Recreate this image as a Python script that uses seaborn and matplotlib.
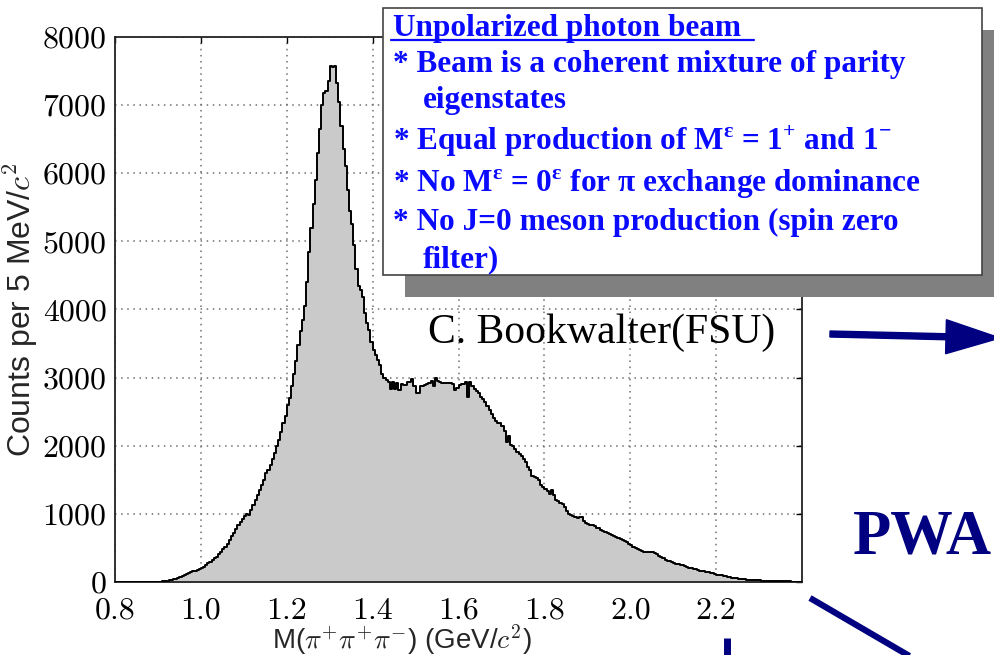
import numpy as np
import pandas as pd
import matplotlib
matplotlib.use("Agg")
import matplotlib.pyplot as plt
import seaborn as sns
from matplotlib.patches import Rectangle, FancyArrow
from matplotlib.lines import Line2D

# ---------------- data (counts per 5 MeV bin) ----------------
bin_start = 0.800
bin_end = 2.400
bin_width = 0.005
# bins 0.800 - 1.195
counts_rise = [0, 0, 0, 0, 0, 0, 0, 0, 0, 0,
               0, 0, 0, 0, 1, 1, 2, 2, 3, 4,
               5, 7, 10, 14, 18, 24, 29, 38, 50, 64,
               78, 88, 100, 112, 130, 142, 155, 168, 180, 195,
               205, 225, 250, 275, 300, 325, 345, 370, 410, 440,
               480, 520, 560, 620, 670, 720, 780, 830, 880, 930,
               965, 1000, 985, 1060, 1130, 1200, 1280, 1350, 1420, 1500,
               1600, 1650, 1720, 1800, 1900, 2000, 2090, 2200, 2330, 2440]
# bins 1.200 - 1.595
counts_peak = [2600, 2700, 2880, 3050, 3250, 3480, 3680, 3850, 4050, 4400,
               4850, 5200, 5550, 5900, 6300, 6650, 7000, 7180, 7200, 7350,
               7580, 7560, 7580, 7320, 7050, 6700, 6350, 6100, 5750, 5450,
               5250, 4950, 4600, 4350, 4280, 4190, 3950, 3800, 3700, 3520,
               3400, 3330, 3260, 3190, 3050, 2990, 2960, 2940, 2830, 2940,
               2830, 2920, 2820, 2900, 2890, 2890, 2940, 2930, 2975, 2870,
               2770, 2770, 2870, 2880, 2890, 2910, 2920, 2950, 2870, 2990,
               2950, 2930, 2925, 2920, 2920, 2920, 2915, 2910, 2820, 2850]
# bins 1.600 - 1.995
counts_fall = [2890, 2900, 2910, 2930, 2720, 2940, 2870, 2840, 2800, 2770,
               2720, 2680, 2640, 2580, 2520, 2470, 2410, 2370, 2340, 2330,
               2290, 2220, 2060, 2150, 2010, 1990, 1950, 1910, 1880, 1850,
               1800, 1760, 1690, 1650, 1560, 1540, 1530, 1500, 1420, 1400,
               1370, 1340, 1290, 1350, 1280, 1200, 1190, 1160, 1150, 1100,
               1040, 1000, 990, 970, 955, 940, 960, 950, 900, 860,
               850, 840, 835, 820, 800, 790, 770, 755, 740, 720,
               705, 690, 675, 660, 650, 630, 615, 600, 590, 565]
# bins 2.000 - 2.395
counts_tail = [545, 520, 495, 480, 465, 455, 445, 440, 435, 440,
               435, 430, 410, 385, 365, 345, 330, 315, 305, 295,
               285, 270, 260, 255, 245, 230, 220, 210, 200, 195,
               185, 175, 168, 160, 155, 148, 140, 135, 130, 120,
               110, 105, 100, 95, 85, 78, 70, 63, 58, 52,
               48, 45, 42, 39, 36, 33, 30, 28, 26, 24,
               23, 21, 19, 18, 16, 15, 14, 13, 12, 11,
               10, 10, 9, 8, 8, 7, 6, 6, 5, 5]

x_ticks = [0.8, 1.0, 1.2, 1.4, 1.6, 1.8, 2.0, 2.2]
x_tick_labels = ["0.8", "1.0", "1.2", "1.4", "1.6", "1.8", "2.0", "2.2"]
y_ticks = [0, 1000, 2000, 3000, 4000, 5000, 6000, 7000, 8000]
y_tick_labels = ["0", "1000", "2000", "3000", "4000", "5000", "6000", "7000", "8000"]

box_title = "Unpolarized photon beam"
box_lines = [
    "* Beam is a coherent mixture of parity",
    "eigenstates",
    "* Equal production of M$^{\\mathregular{ε}}$ = 1$^{\\mathregular{+}}$ and 1$^{\\mathregular{-}}$",
    "* No M$^{\\mathregular{ε}}$ = 0$^{\\mathregular{ε}}$ for π exchange dominance",
    "* No J=0 meson production (spin zero",
    "filter)",
]
credit = "C. Bookwalter(FSU)"
pwa_text = "PWA"

# ---------------- build table ----------------
counts = counts_rise + counts_peak + counts_fall + counts_tail
n_bins = len(counts)
centers = bin_start + bin_width * (np.arange(n_bins) + 0.5)
df = pd.DataFrame({"mass": centers, "counts": counts})

# ---------------- figure ----------------
sns.set_style("white")
plt.rcParams["font.family"] = ["Liberation Sans", "DejaVu Sans"]

W, H = 995, 655
fig = plt.figure(figsize=(W / 100, H / 100), dpi=100)
ax = fig.add_axes([115 / W, 1 - 582 / H, 687 / W, 545 / H])

hist_kws = dict(data=df, x="mass", weights="counts", binwidth=bin_width,
                binrange=(bin_start, bin_end), element="step", ax=ax)
sns.histplot(fill=True, color="#cacaca", alpha=1.0, linewidth=0, zorder=2, **hist_kws)
sns.histplot(fill=False, color="black", linewidth=1.4, zorder=3, **hist_kws)

ax.set_xlim(0.8, 2.4)
ax.set_ylim(0, 8000)
ax.set_xticks(x_ticks)
ax.set_xticklabels(x_tick_labels, fontfamily="cmr10", fontsize=23)
ax.set_yticks(y_ticks)
ax.set_yticklabels(y_tick_labels, fontfamily="cmr10", fontsize=23)
ax.tick_params(direction="in", length=4, width=1, top=True, right=True,
               colors="black", pad=6)
ax.tick_params(axis="x", pad=11)
ax.grid(True, linestyle=(0, (1, 3)), color="#6f6f6f", linewidth=1.1, zorder=1)
ax.set_axisbelow(True)
for s in ax.spines.values():
    s.set_color("#222222")
    s.set_linewidth(1.3)
    s.set_visible(True)

ax.set_xlabel("M($\\pi^{+}\\pi^{+}\\pi^{-}$) (GeV/$c^{2}$)", fontsize=20,
              fontfamily="Liberation Sans", math_fontfamily="cm")
ax.xaxis.set_label_coords((402 - 115) / 687, (582 - 622) / 545)
ax.set_ylabel("Counts per 5 MeV/$c^{2}$", fontsize=23,
              fontfamily="Liberation Sans", math_fontfamily="cm")
ax.yaxis.set_label_coords((40 - 115) / 687, 0.5)

# ---------------- overlay annotations ----------------
def fx(px):
    return px / W

def fy(py):
    return 1 - py / H

# shadow and box
fig.add_artist(Rectangle((fx(405), fy(297)), fx(1000) - fx(405), fy(30) - fy(297),
                         transform=fig.transFigure, facecolor="#808080",
                         edgecolor="none", zorder=5))
fig.add_artist(Rectangle((fx(383), fy(275)), fx(982) - fx(383), fy(8) - fy(275),
                         transform=fig.transFigure, facecolor="white",
                         edgecolor="#444444", linewidth=1.2, zorder=6))

blue = "#0a0aff"
serif_bold = dict(family=["Liberation Serif", "DejaVu Serif"], weight="bold",
                  color=blue, fontsize=22.5, va="baseline", ha="left", zorder=7)
fig.text(fx(393), fy(36), box_title, **serif_bold)
fig.add_artist(Line2D([fx(391), fx(754)], [fy(40), fy(40)], transform=fig.transFigure,
                      color=blue, linewidth=1.6, zorder=7))
line_pos = [(393, 72), (423, 108), (393, 150), (393, 192), (393, 230), (423, 267)]
for (px, py), txt in zip(line_pos, box_lines):
    fig.text(fx(px), fy(py), txt, **serif_bold)

fig.text(fx(428), fy(343), credit, family=["Liberation Serif", "DejaVu Serif"],
         fontsize=30, color="black", va="baseline", ha="left", zorder=7)

navy = "#000080"
fig.text(fx(853), fy(553), pwa_text, family=["Liberation Serif", "DejaVu Serif"],
         weight="bold", fontsize=45, color=navy, va="baseline", ha="left", zorder=7)

# arrows / bars (in inches)
t_in = fig.dpi_scale_trans
fig.add_artist(FancyArrow(8.30, (H - 334) / 100, 1.70, -0.04, width=0.06,
                          head_width=0.34, head_length=0.54,
                          length_includes_head=True, transform=t_in,
                          color=navy, zorder=7))
fig.add_artist(Line2D([8.10, 9.30], [(H - 598) / 100, (H - 668) / 100], transform=t_in,
                      color=navy, linewidth=4.5, solid_capstyle="butt", zorder=7))
fig.add_artist(Line2D([7.27, 7.27], [(H - 638) / 100, -0.05], transform=t_in,
                      color=navy, linewidth=5.0, solid_capstyle="butt", zorder=7))

fig.savefig("out.png", dpi=100)
